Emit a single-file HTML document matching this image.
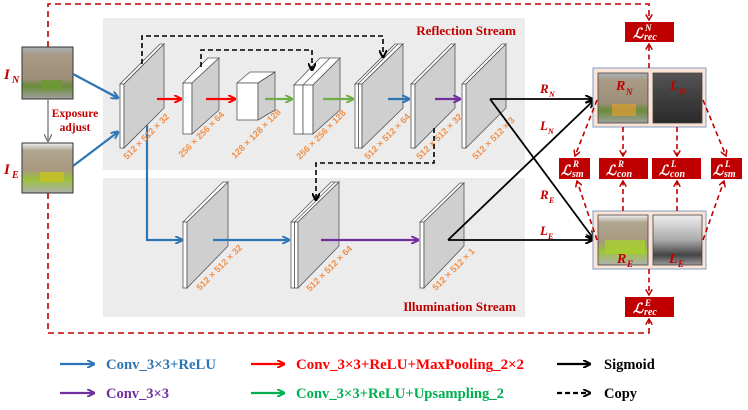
<!DOCTYPE html>
<html><head><meta charset="utf-8"><style>
html,body{margin:0;padding:0;background:#fff;}
svg{display:block;}
.lab{font-family:"Liberation Sans",sans-serif;font-size:9px;fill:#f0904a;font-weight:bold;}
.t{font-family:"Liberation Serif",serif;font-weight:bold;}
.it{font-family:"Liberation Serif",serif;font-weight:bold;font-style:italic;}
</style></head><body>
<svg width="748" height="410" viewBox="0 0 748 410" xmlns="http://www.w3.org/2000/svg">
<defs>
<marker id="ab" markerWidth="8" markerHeight="8" refX="7" refY="4" orient="auto" markerUnits="userSpaceOnUse"><path d="M0,0 L8,4 L0,8" fill="none" stroke="#2e75b6" stroke-width="2"/></marker>
<marker id="ar" markerWidth="8" markerHeight="8" refX="7" refY="4" orient="auto" markerUnits="userSpaceOnUse"><path d="M0,0 L8,4 L0,8" fill="none" stroke="#ff0000" stroke-width="2"/></marker>
<marker id="ag" markerWidth="8" markerHeight="8" refX="7" refY="4" orient="auto" markerUnits="userSpaceOnUse"><path d="M0,0 L8,4 L0,8" fill="none" stroke="#70ad47" stroke-width="2"/></marker>
<marker id="ag2" markerWidth="8" markerHeight="8" refX="7" refY="4" orient="auto" markerUnits="userSpaceOnUse"><path d="M0,0 L8,4 L0,8" fill="none" stroke="#00b050" stroke-width="2"/></marker>
<marker id="ap" markerWidth="8" markerHeight="8" refX="7" refY="4" orient="auto" markerUnits="userSpaceOnUse"><path d="M0,0 L8,4 L0,8" fill="none" stroke="#7030a0" stroke-width="2"/></marker>
<marker id="ak" markerWidth="8" markerHeight="8" refX="7" refY="4" orient="auto" markerUnits="userSpaceOnUse"><path d="M0,0 L8,4 L0,8" fill="none" stroke="#000" stroke-width="2"/></marker>
<marker id="aq" markerWidth="8" markerHeight="8" refX="7" refY="4" orient="auto" markerUnits="userSpaceOnUse"><path d="M0,0 L8,4 L0,8" fill="none" stroke="#777" stroke-width="1.3"/></marker>
<marker id="ad" markerWidth="7" markerHeight="7" refX="6" refY="3.5" orient="auto" markerUnits="userSpaceOnUse"><path d="M0,0 L6,3.5 L0,7" fill="none" stroke="#c00000" stroke-width="1.5"/></marker>
<linearGradient id="imgN" x1="0" y1="0" x2="0" y2="1"><stop offset="0" stop-color="#a9b0b8"/><stop offset="0.15" stop-color="#a89a85"/><stop offset="0.6" stop-color="#9d8f7a"/><stop offset="0.75" stop-color="#6a8a3a"/><stop offset="1" stop-color="#a0a0a0"/></linearGradient>
<linearGradient id="imgE" x1="0" y1="0" x2="0" y2="1"><stop offset="0" stop-color="#f0f0f0"/><stop offset="0.15" stop-color="#b0a590"/><stop offset="0.55" stop-color="#a8997f"/><stop offset="0.72" stop-color="#9bc23a"/><stop offset="1" stop-color="#b0b0b0"/></linearGradient>
<linearGradient id="imgL" x1="0" y1="0" x2="0" y2="1"><stop offset="0" stop-color="#555"/><stop offset="0.6" stop-color="#3a3a3a"/><stop offset="1" stop-color="#2a2a2a"/></linearGradient>
<linearGradient id="imgLE" x1="0" y1="0" x2="0" y2="1"><stop offset="0" stop-color="#eee"/><stop offset="0.5" stop-color="#aaa"/><stop offset="0.8" stop-color="#444"/><stop offset="1" stop-color="#999"/></linearGradient>
</defs>

<rect x="103" y="18" width="422" height="152" fill="#ececec"/>
<rect x="103" y="178" width="422" height="139" fill="#ececec"/>
<text x="516" y="35" text-anchor="end" class="t" font-size="13" fill="#c00000">Reflection Stream</text>
<text x="516" y="311" text-anchor="end" class="t" font-size="13" fill="#c00000">Illumination Stream</text>

<g fill="none" stroke="#c00000" stroke-width="1.6" stroke-dasharray="6,4">
<path d="M48,47 L48,4 L649,4 L649,20" marker-end="url(#ad)"/>
<path d="M48,193 L48,333 L649,333 L649,319" marker-end="url(#ad)"/>
</g>

<rect x="22" y="47" width="51" height="52" fill="url(#imgN)" stroke="#333" stroke-width="1"/>
<rect x="22" y="143" width="51" height="50" fill="url(#imgE)" stroke="#333" stroke-width="1"/>
<rect x="42" y="80" width="20" height="10" fill="#6c9a30" opacity="0.8"/>
<rect x="40" y="172" width="24" height="10" fill="#c8c020" opacity="0.8"/>
<text x="4" y="79" class="it" font-size="15" fill="#c00000">I</text><text x="12" y="83" class="it" font-size="10" fill="#c00000">N</text>
<text x="4" y="174" class="it" font-size="15" fill="#c00000">I</text><text x="12" y="178" class="it" font-size="10" fill="#c00000">E</text>
<line x1="48" y1="99" x2="48" y2="141" stroke="#777" stroke-width="1.3" marker-end="url(#aq)"/>
<text x="75" y="117" text-anchor="middle" class="t" font-size="11.5" fill="#c00000">Exposure</text>
<text x="75" y="131" text-anchor="middle" class="t" font-size="11.5" fill="#c00000">adjust</text>

<g stroke="#2e75b6" stroke-width="2.2" fill="none">
<line x1="73" y1="74" x2="118" y2="98" marker-end="url(#ab)"/>
<line x1="73" y1="166" x2="118" y2="132" marker-end="url(#ab)"/>
<path d="M147,125 L147,240 L182,240" marker-end="url(#ab)"/>
</g>

<g stroke="#555" stroke-width="0.8">
<polygon points="120,84 160,44 164,44 124,84" fill="#fff"/>
<rect x="120" y="84" width="4" height="64" fill="#fff"/>
<polygon points="124,84 164,44 164,108 124,148" fill="#cfcfcf"/>
<polygon points="183,83 208,58 219,58 192,83" fill="#fff"/>
<rect x="183" y="83" width="9" height="51" fill="#fff"/>
<polygon points="192,83 219,58 219,110 192,134" fill="#cfcfcf"/>
<polygon points="237,83 250,72 275,72 258,83" fill="#fff"/>
<rect x="237" y="83" width="21" height="37" fill="#fff"/>
<polygon points="258,83 275,72 275,110 258,120" fill="#cfcfcf"/>
<polygon points="294,85 320,58 340,58 313,85" fill="#fff"/>
<line x1="303" y1="85" x2="330" y2="58"/>
<rect x="294" y="85" width="9" height="49" fill="#fff"/>
<rect x="303" y="85" width="10" height="49" fill="#fff"/>
<polygon points="313,85 340,58 340,110 313,134" fill="#cfcfcf"/>
<polygon points="355,84 395,44 403,44 362,84" fill="#fff"/>
<line x1="358" y1="84" x2="398" y2="44"/>
<rect x="355" y="84" width="3.5" height="64" fill="#fff"/>
<rect x="358.5" y="84" width="3.5" height="64" fill="#fff"/>
<polygon points="362,84 403,44 403,108 362,148" fill="#cfcfcf"/>
<polygon points="411,84 451,44 455,44 415,84" fill="#fff"/>
<rect x="411" y="84" width="4" height="64" fill="#fff"/>
<polygon points="415,84 455,44 455,108 415,148" fill="#cfcfcf"/>
<polygon points="462,84 502,44 506,44 466,84" fill="#fff"/>
<rect x="462" y="84" width="4" height="64" fill="#fff"/>
<polygon points="466,84 506,44 506,108 466,148" fill="#cfcfcf"/>
<polygon points="183,222 223,182 228,182 187,222" fill="#fff"/>
<rect x="183" y="222" width="4" height="66" fill="#fff"/>
<polygon points="187,222 228,182 228,246 187,288" fill="#cfcfcf"/>
<polygon points="291,222 331,182 339,182 298,222" fill="#fff"/>
<line x1="294.5" y1="222" x2="335" y2="182"/>
<rect x="291" y="222" width="3.5" height="66" fill="#fff"/>
<rect x="294.5" y="222" width="3.5" height="66" fill="#fff"/>
<polygon points="298,222 339,182 339,246 298,288" fill="#cfcfcf"/>
<polygon points="420,222 460,183 464,183 424,222" fill="#fff"/>
<rect x="420" y="222" width="4" height="66" fill="#fff"/>
<polygon points="424,222 464,183 464,246 424,288" fill="#cfcfcf"/>
</g>

<g class="lab">
<text transform="translate(127,160) rotate(-45)">512 × 512 × 32</text>
<text transform="translate(182,158) rotate(-45)">256 × 256 × 64</text>
<text transform="translate(235,159) rotate(-45)">128 × 128 × 128</text>
<text transform="translate(300,160) rotate(-45)">256 × 256 × 128</text>
<text transform="translate(368,160) rotate(-45)">512 × 512 × 64</text>
<text transform="translate(420,160) rotate(-45)">512 × 512 × 32</text>
<text transform="translate(476,160) rotate(-45)">512 × 512 × 3</text>
<text transform="translate(200,291) rotate(-45)">512 × 512 × 32</text>
<text transform="translate(310,292) rotate(-45)">512 × 512 × 64</text>
<text transform="translate(436,291) rotate(-45)">512 × 512 × 1</text>
</g>

<g stroke-width="2.2" fill="none">
<line x1="157" y1="99" x2="181" y2="99" stroke="#ff0000" marker-end="url(#ar)"/>
<line x1="206" y1="99" x2="235" y2="99" stroke="#ff0000" marker-end="url(#ar)"/>
<line x1="265" y1="99" x2="292" y2="99" stroke="#70ad47" marker-end="url(#ag)"/>
<line x1="323" y1="99" x2="353" y2="99" stroke="#70ad47" marker-end="url(#ag)"/>
<line x1="388" y1="99" x2="409" y2="99" stroke="#2e75b6" marker-end="url(#ab)"/>
<line x1="435" y1="99" x2="460" y2="99" stroke="#7030a0" marker-end="url(#ap)"/>
<line x1="213" y1="240" x2="289" y2="240" stroke="#2e75b6" marker-end="url(#ab)"/>
<line x1="321" y1="240" x2="418" y2="240" stroke="#7030a0" marker-end="url(#ap)"/>
</g>

<g stroke="#000" stroke-width="1.6" fill="none" stroke-dasharray="5,3">
<path d="M142,64 L142,36 L383,36 L383,57" marker-end="url(#ak)"/>
<path d="M201,67 L201,50 L312,50 L312,70" marker-end="url(#ak)"/>
<path d="M434,128 L434,163 L316,163 L316,200" marker-end="url(#ak)"/>
</g>

<g stroke="#000" stroke-width="1.8" fill="none">
<line x1="490" y1="99" x2="592" y2="99" marker-end="url(#ak)"/>
<line x1="490" y1="99" x2="593" y2="238" marker-end="url(#ak)"/>
<line x1="448" y1="240" x2="592" y2="240" marker-end="url(#ak)"/>
<line x1="448" y1="240" x2="593" y2="101" marker-end="url(#ak)"/>
</g>
<g fill="#c00000">
<text x="540" y="93" class="it" font-size="13">R</text><text x="549" y="97" class="it" font-size="8">N</text>
<text x="540" y="130" class="it" font-size="13">L</text><text x="548" y="134" class="it" font-size="8">N</text>
<text x="540" y="199" class="it" font-size="13">R</text><text x="549" y="203" class="it" font-size="8">E</text>
<text x="540" y="235" class="it" font-size="13">L</text><text x="548" y="239" class="it" font-size="8">E</text>
</g>

<rect x="593" y="68" width="113" height="59" fill="#fbe3d6" stroke="#7f9cc4" stroke-width="1"/>
<rect x="598" y="73" width="50" height="50" fill="url(#imgN)" stroke="#444" stroke-width="0.8"/>
<rect x="612" y="104" width="24" height="12" fill="#e0a030" opacity="0.7"/>
<rect x="653" y="73" width="49" height="50" fill="url(#imgL)" stroke="#444" stroke-width="0.8"/>
<rect x="593" y="211" width="113" height="58" fill="#fbe3d6" stroke="#7f9cc4" stroke-width="1"/>
<rect x="598" y="215" width="50" height="50" fill="url(#imgE)" stroke="#444" stroke-width="0.8"/>
<rect x="605" y="240" width="40" height="14" fill="#a8d030" opacity="0.8"/>
<rect x="653" y="215" width="49" height="50" fill="url(#imgLE)" stroke="#444" stroke-width="0.8"/>
<g fill="#c00000">
<text x="616" y="90" class="it" font-size="14">R</text><text x="626" y="95" class="it" font-size="9">N</text>
<text x="670" y="90" class="it" font-size="14">L</text><text x="679" y="95" class="it" font-size="9">N</text>
<text x="617" y="263" class="it" font-size="14">R</text><text x="627" y="267" class="it" font-size="9">E</text>
<text x="669" y="263" class="it" font-size="14">L</text><text x="678" y="267" class="it" font-size="9">E</text>
</g>

<g fill="none" stroke="#c00000" stroke-width="1.6" stroke-dasharray="5,3.5">
<line x1="649" y1="68" x2="649" y2="44" marker-end="url(#ad)"/>
<line x1="623" y1="127" x2="623" y2="156" marker-end="url(#ad)"/>
<line x1="677" y1="127" x2="677" y2="156" marker-end="url(#ad)"/>
<line x1="597" y1="100" x2="575" y2="156" marker-end="url(#ad)"/>
<line x1="703" y1="100" x2="726" y2="156" marker-end="url(#ad)"/>
<line x1="623" y1="211" x2="623" y2="181" marker-end="url(#ad)"/>
<line x1="677" y1="211" x2="677" y2="181" marker-end="url(#ad)"/>
<line x1="597" y1="240" x2="577" y2="181" marker-end="url(#ad)"/>
<line x1="703" y1="240" x2="724" y2="181" marker-end="url(#ad)"/>
<line x1="649" y1="269" x2="649" y2="295" marker-end="url(#ad)"/>
</g>

<g fill="#c00000">
<rect x="625" y="22" width="49" height="20"/>
<rect x="559" y="158" width="31" height="21"/>
<rect x="599" y="158" width="49" height="21"/>
<rect x="652" y="158" width="49" height="21"/>
<rect x="711" y="158" width="31" height="21"/>
<rect x="625" y="297" width="49" height="20"/>
</g>
<g fill="#fff" class="it">
<text x="633" y="38" font-size="14">ℒ</text><text x="645" y="31" font-size="9">N</text><text x="644" y="40" font-size="10">rec</text>
<text x="561" y="175" font-size="14">ℒ</text><text x="573" y="167" font-size="9">R</text><text x="572" y="177" font-size="10">sm</text>
<text x="606" y="175" font-size="14">ℒ</text><text x="618" y="167" font-size="9">R</text><text x="617" y="177" font-size="10">con</text>
<text x="659" y="175" font-size="14">ℒ</text><text x="671" y="167" font-size="9">L</text><text x="670" y="177" font-size="10">con</text>
<text x="713" y="175" font-size="14">ℒ</text><text x="725" y="167" font-size="9">L</text><text x="724" y="177" font-size="10">sm</text>
<text x="633" y="313" font-size="14">ℒ</text><text x="645" y="306" font-size="9">E</text><text x="644" y="315" font-size="10">rec</text>
</g>

<!-- legend -->
<g stroke-width="2.2" fill="none">
<line x1="60" y1="364" x2="94" y2="364" stroke="#2e75b6" marker-end="url(#ab)"/>
<line x1="60" y1="393" x2="94" y2="393" stroke="#7030a0" marker-end="url(#ap)"/>
<line x1="251" y1="364" x2="284" y2="364" stroke="#ff0000" marker-end="url(#ar)"/>
<line x1="251" y1="393" x2="284" y2="393" stroke="#00b050" marker-end="url(#ag2)"/>
<line x1="557" y1="364" x2="590" y2="364" stroke="#000" marker-end="url(#ak)"/>
<line x1="557" y1="393" x2="590" y2="393" stroke="#000" stroke-dasharray="5,3" marker-end="url(#ak)"/>
</g>
<g class="t" font-size="14.5">
<text x="106" y="369" fill="#2e75b6" textLength="110" lengthAdjust="spacingAndGlyphs">Conv_3×3+ReLU</text>
<text x="106" y="398" fill="#7030a0">Conv_3×3</text>
<text x="296" y="369" fill="#ff0000" textLength="228" lengthAdjust="spacingAndGlyphs">Conv_3×3+ReLU+MaxPooling_2×2</text>
<text x="296" y="398" fill="#00b050" textLength="208" lengthAdjust="spacingAndGlyphs">Conv_3×3+ReLU+Upsampling_2</text>
<text x="604" y="369" fill="#000">Sigmoid</text>
<text x="604" y="398" fill="#000">Copy</text>
</g>
</svg>
</body></html>
